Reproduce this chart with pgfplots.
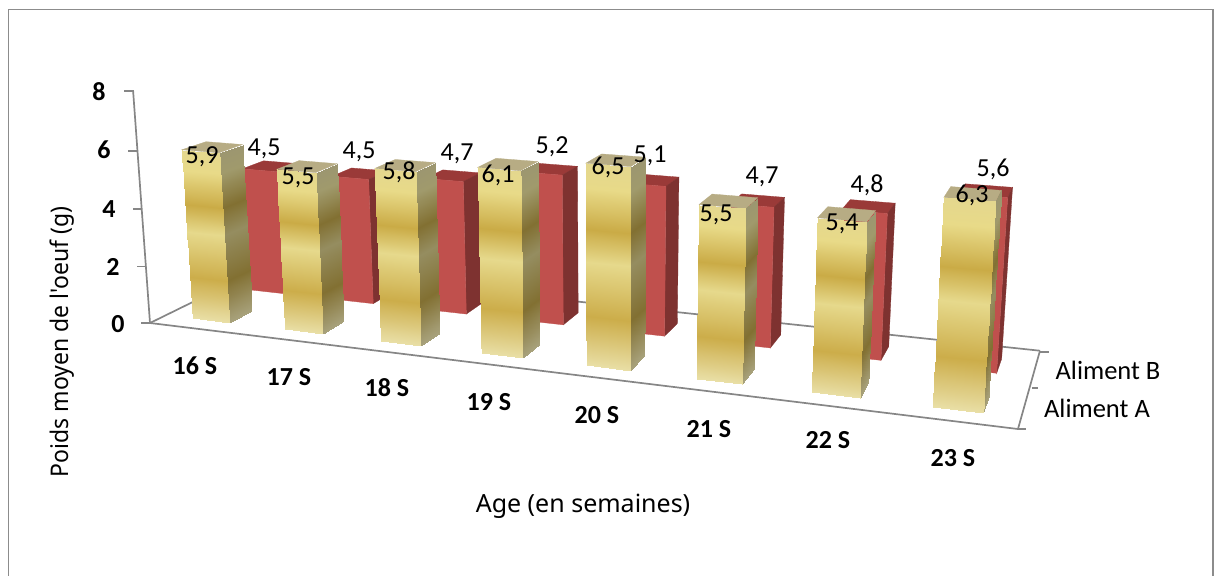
\documentclass[border=0pt]{standalone}
\usepackage{pgfplots}
\pgfplotsset{compat=1.18}
\usepackage{fontspec}
\setmainfont{Carlito}
\newfontfamily\titlefont{Noto Sans}

\definecolor{axisgrey}{HTML}{868686}
\definecolor{framegrey}{HTML}{8C8C8C}
\definecolor{redfront}{HTML}{C0504D}
\definecolor{redtop}{HTML}{9A3A38}
\definecolor{redside}{HTML}{7E3230}
\definecolor{goldtop}{HTML}{B7AC84}

\pgfplotsset{
  colormap={goldfront}{rgb255(0cm)=(233,223,166); rgb255(25cm)=(204,173,74); rgb255(52cm)=(230,217,140); rgb255(68cm)=(202,171,70); rgb255(88cm)=(232,218,136); rgb255(100cm)=(228,215,142)},
  colormap={goldside}{rgb255(0cm)=(168,162,124); rgb255(25cm)=(130,112,50); rgb255(52cm)=(149,141,96); rgb255(68cm)=(130,112,50); rgb255(88cm)=(160,154,108); rgb255(100cm)=(156,150,112)},
}

% projection of (position along the weeks, depth, weight) onto the page
\tikzset{declare function={
  pd(\u,\v,\w)=1-0.17*\u+0.12044*\v-0.004455*\w;
  px(\u,\v,\w)=(150+694.9*\u+143.55*\v-2.71*\w)/pd(\u,\v,\w);
  py(\u,\v,\w)=(323+33.07*\u-22.72*\v-29.5*\w)/pd(\u,\v,\w);
}}

\def\nstrips{20}
\def\halfwidth{0.025}

% one flat polygon through four projected corners
\newcommand{\quadface}[2]{%
  \edef\tmp{\noexpand\addplot[fill=#1,draw=#1,line width=0.3pt] coordinates {#2} -- cycle;}\tmp
}

% a vertical face cut into strips, coloured by the height fraction
\newcommand{\stripface}[6]{%
  \gdef\rows{}%
  \foreach \k in {1,...,\nstrips}{%
    \pgfmathsetmacro\ta{(\k-1)/\nstrips}%
    \pgfmathsetmacro\tb{\k/\nstrips}%
    \pgfmathsetmacro\xa{px(#1,#2,\ta*#5)}\pgfmathsetmacro\ya{py(#1,#2,\ta*#5)}%
    \pgfmathsetmacro\xb{px(#3,#4,\ta*#5)}\pgfmathsetmacro\yb{py(#3,#4,\ta*#5)}%
    \pgfmathsetmacro\xc{px(#3,#4,\tb*#5)}\pgfmathsetmacro\yc{py(#3,#4,\tb*#5)}%
    \pgfmathsetmacro\xd{px(#1,#2,\tb*#5)}\pgfmathsetmacro\yd{py(#1,#2,\tb*#5)}%
    \xdef\rows{\rows (\xa,\ya) [\ta] (\xb,\yb) [\ta] (\xc,\yc) [\tb] (\xd,\yd) [\tb] }%
  }%
  \edef\tmp{\noexpand\addplot[patch,patch type=rectangle,shader=interp,colormap name=#6,point meta=explicit] coordinates {\rows};}\tmp
}

% the three visible faces of a bar, given week index, depth range and value
\newcommand{\facecoords}[7]{%
  \pgfmathsetmacro\xa{px(#1,#3,#5)}\pgfmathsetmacro\ya{py(#1,#3,#5)}%
  \pgfmathsetmacro\xb{px(#2,#3,#6)}\pgfmathsetmacro\yb{py(#2,#3,#6)}%
  \pgfmathsetmacro\xc{px(#2,#4,#6)}\pgfmathsetmacro\yc{py(#2,#4,#6)}%
  \pgfmathsetmacro\xd{px(#1,#4,#5)}\pgfmathsetmacro\yd{py(#1,#4,#5)}%
  \quadface{#7}{(\xa,\ya)(\xb,\yb)(\xc,\yc)(\xd,\yd)}%
}
\newcommand{\redbar}[2]{%
  \pgfmathsetmacro\ul{(#1+0.5)/8-\halfwidth}\pgfmathsetmacro\ur{(#1+0.5)/8+\halfwidth}%
  \facecoords{\ul}{\ur}{0.63}{0.83}{#2}{#2}{redtop}% top
  \pgfmathsetmacro\xa{px(\ur,0.63,0)}\pgfmathsetmacro\ya{py(\ur,0.63,0)}%
  \pgfmathsetmacro\xb{px(\ur,0.83,0)}\pgfmathsetmacro\yb{py(\ur,0.83,0)}%
  \pgfmathsetmacro\xc{px(\ur,0.83,#2)}\pgfmathsetmacro\yc{py(\ur,0.83,#2)}%
  \pgfmathsetmacro\xd{px(\ur,0.63,#2)}\pgfmathsetmacro\yd{py(\ur,0.63,#2)}%
  \quadface{redside}{(\xa,\ya)(\xb,\yb)(\xc,\yc)(\xd,\yd)}%
  \pgfmathsetmacro\xa{px(\ul,0.63,0)}\pgfmathsetmacro\ya{py(\ul,0.63,0)}%
  \pgfmathsetmacro\xb{px(\ur,0.63,0)}\pgfmathsetmacro\yb{py(\ur,0.63,0)}%
  \pgfmathsetmacro\xc{px(\ur,0.63,#2)}\pgfmathsetmacro\yc{py(\ur,0.63,#2)}%
  \pgfmathsetmacro\xd{px(\ul,0.63,#2)}\pgfmathsetmacro\yd{py(\ul,0.63,#2)}%
  \quadface{redfront}{(\xa,\ya)(\xb,\yb)(\xc,\yc)(\xd,\yd)}%
}
\newcommand{\goldbar}[2]{%
  \pgfmathsetmacro\ul{(#1+0.5)/8-\halfwidth}\pgfmathsetmacro\ur{(#1+0.5)/8+\halfwidth}%
  \facecoords{\ul}{\ur}{0.13}{0.33}{#2}{#2}{goldtop}% top
  \stripface{\ur}{0.13}{\ur}{0.33}{#2}{goldside}%
  \stripface{\ul}{0.13}{\ur}{0.13}{#2}{goldfront}%
}
% axis line between two points of the box
\newcommand{\boxline}[6]{%
  \pgfmathsetmacro\xa{px(#1,#2,#3)}\pgfmathsetmacro\ya{py(#1,#2,#3)}%
  \pgfmathsetmacro\xb{px(#4,#5,#6)}\pgfmathsetmacro\yb{py(#4,#5,#6)}%
  \edef\tmp{\noexpand\addplot[axisgrey,line width=1.7pt] coordinates {(\xa,\ya)(\xb,\yb)};}\tmp
}

\newcommand{\vallabel}[3]{\node[anchor=base,font=\fontsize{26}{30}\selectfont] at (axis cs:#1,#2) {#3};}
\newcommand{\boldlabel}[3]{\node[anchor=base,font=\fontsize{26}{30}\selectfont\bfseries] at (axis cs:#1,#2) {#3};}
\newcommand{\serieslabel}[3]{\node[anchor=base,font=\fontsize{26.5}{30}\selectfont] at (axis cs:#1,#2) {#3};}

\begin{document}
\begin{tikzpicture}
\path[use as bounding box] (0,0) rectangle (1219pt,576pt);
\begin{axis}[
  at={(0,0)},anchor=south west,
  scale only axis,width=1219pt,height=576pt,
  xmin=0,xmax=1219,ymin=0,ymax=576,y dir=reverse,
  hide axis,clip=false,
  point meta min=0,point meta max=1,
]
% outer frame, open at the foot of the page
\addplot[framegrey,line width=1.4pt] coordinates {(8.5,577)(8.5,9.5)(1212.8,9.5)(1212.8,577)};

% floor edges and value axis
\boxline{0}{0}{0}{1}{0}{0}
\boxline{0}{1}{0}{1}{1}{0}
\boxline{0}{0}{0}{0}{1}{0}
\boxline{1}{0}{0}{1}{1}{0}
\boxline{0}{0}{0}{0}{0}{8}
\addplot[axisgrey,line width=1.5pt] coordinates {(141,323)(150,323)};
\addplot[axisgrey,line width=1.5pt] coordinates {(137,266.5)(145.5,266.5)};
\addplot[axisgrey,line width=1.5pt] coordinates {(133,209)(141.5,209)};
\addplot[axisgrey,line width=1.5pt] coordinates {(128,151)(137,151)};
\addplot[axisgrey,line width=1.5pt] coordinates {(124,91)(133,91)};
\addplot[axisgrey,line width=1.5pt] coordinates {(1018,429)(1026,429)};
\addplot[axisgrey,line width=1.5pt] coordinates {(1032,388)(1038,388)};
\addplot[axisgrey,line width=1.5pt] coordinates {(1040,352)(1049,352)};

% Aliment B, rear row
\redbar{0}{4.5}
\redbar{1}{4.5}
\redbar{2}{4.7}
\redbar{3}{5.2}
\redbar{4}{5.1}
\redbar{5}{4.7}
\redbar{6}{4.8}
\redbar{7}{5.6}

% Aliment A, front row
\goldbar{0}{5.9}
\goldbar{1}{5.5}
\goldbar{2}{5.8}
\goldbar{3}{6.1}
\goldbar{4}{6.5}
\goldbar{5}{5.5}
\goldbar{6}{5.4}
\goldbar{7}{6.3}

% value labels
\vallabel{202}{163}{5,9}
\vallabel{264}{155}{4,5}
\vallabel{359}{158}{4,5}
\vallabel{298}{184}{5,5}
\vallabel{399}{179}{5,8}
\vallabel{457}{160}{4,7}
\vallabel{498}{182}{6,1}
\vallabel{552}{153}{5,2}
\vallabel{608}{174}{6,5}
\vallabel{650}{162}{5,1}
\vallabel{716}{221}{5,5}
\vallabel{762}{183}{4,7}
\vallabel{842}{230}{5,4}
\vallabel{867}{192}{4,8}
\vallabel{972}{202}{6,3}
\vallabel{993}{176}{5,6}

% value ticks
\boldlabel{99}{100}{8}
\boldlabel{104}{158}{6}
\boldlabel{109}{217}{4}
\boldlabel{113}{275}{2}
\boldlabel{118}{332}{0}

% week names
\boldlabel{195}{374}{16 S}
\boldlabel{289}{385}{17 S}
\boldlabel{387}{396}{18 S}
\boldlabel{489}{410}{19 S}
\boldlabel{597}{423}{20 S}
\boldlabel{709}{437}{21 S}
\boldlabel{828}{448}{22 S}
\boldlabel{953}{466}{23 S}

% series names
\serieslabel{1108}{379}{Aliment B}
\serieslabel{1097}{417}{Aliment A}

% axis titles
\node[anchor=base,font=\fontsize{25}{30}\titlefont] at (axis cs:583,512) {Age (en semaines)};
\node[anchor=base,rotate=90,font=\fontsize{24.3}{30}\titlefont] at (axis cs:68,342) {\scalebox{0.945}[1]{Poids moyen de l'oeuf (g)}};
\end{axis}
\end{tikzpicture}
\end{document}
